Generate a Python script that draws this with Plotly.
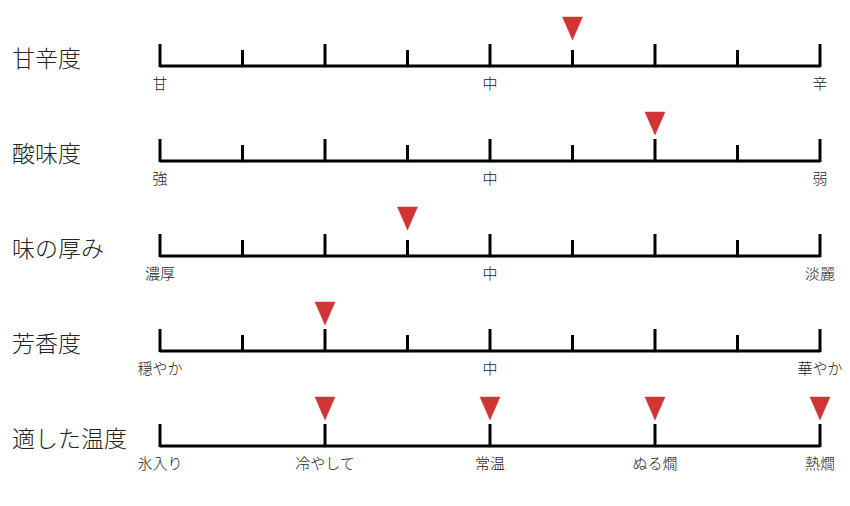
import plotly.graph_objects as go

# ---- data ----
row_titles = ["甘辛度", "酸味度", "味の厚み", "芳香度", "適した温度"]
scale_labels = [
    ["甘", "中", "辛"],
    ["強", "中", "弱"],
    ["濃厚", "中", "淡麗"],
    ["穏やか", "中", "華やか"],
    ["氷入り", "冷やして", "常温", "ぬる燗", "熱燗"],
]
label_positions = [
    [0, 4, 8],
    [0, 4, 8],
    [0, 4, 8],
    [0, 4, 8],
    [0, 2, 4, 6, 8],
]
tick_positions = [
    [0, 1, 2, 3, 4, 5, 6, 7, 8],
    [0, 1, 2, 3, 4, 5, 6, 7, 8],
    [0, 1, 2, 3, 4, 5, 6, 7, 8],
    [0, 1, 2, 3, 4, 5, 6, 7, 8],
    [0, 2, 4, 6, 8],
]
marker_values = [[5], [6], [3], [2], [2, 4, 6, 8]]
scale_min, scale_max = 0, 8

# ---- layout geometry (pixels) ----
W, H = 850, 506
x_left_px, x_right_px = 160, 820
row0_px, row_gap_px = 66, 95
px_per_x = (x_right_px - x_left_px) / (scale_max - scale_min)
x_range = [scale_min - x_left_px / px_per_x, scale_max + (W - x_right_px) / px_per_x]
y_range = [(H - row0_px) / row_gap_px, -row0_px / row_gap_px]

def py(p):  # pixel distance -> y units
    return p / row_gap_px

def pxx(p):  # pixel distance -> x units
    return p / px_per_x

major_len = py(22)
minor_len = py(16)
tri_half_w = pxx(10)
tri_top = py(49)
tri_bot = py(26)
label_off = py(19)
title_off = py(5)
title_x = scale_min - pxx(x_left_px - 12)

fig = go.Figure()

# baselines and ticks
lx, ly = [], []
for i, ticks in enumerate(tick_positions):
    lx += [scale_min, scale_max, None]
    ly += [i, i, None]
    all_major = len(ticks) < 9
    for t in ticks:
        ln = major_len if (all_major or t % 2 == 0) else minor_len
        lx += [t, t, None]
        ly += [i + 0.012, i - ln, None]
fig.add_trace(go.Scatter(x=lx, y=ly, mode="lines",
                         line=dict(color="#000000", width=3),
                         hoverinfo="skip", showlegend=False))

# triangles
tx, ty = [], []
for i, vals in enumerate(marker_values):
    for v in vals:
        tx += [v - tri_half_w, v + tri_half_w, v, v - tri_half_w, None]
        ty += [i - tri_top, i - tri_top, i - tri_bot, i - tri_top, None]
fig.add_trace(go.Scatter(x=tx, y=ty, mode="lines", fill="toself",
                         fillcolor="#d03535", line=dict(color="#d03535", width=0.5),
                         hoverinfo="skip", showlegend=False))

# scale labels
sx, sy, st = [], [], []
for i, (labs, pos) in enumerate(zip(scale_labels, label_positions)):
    for lab, p in zip(labs, pos):
        sx.append(p); sy.append(i + label_off); st.append(lab)
fig.add_trace(go.Scatter(x=sx, y=sy, text=st, mode="text",
                         textposition="middle center", cliponaxis=False,
                         textfont=dict(family="Noto Sans CJK JP Light", size=15, color="#222222"),
                         hoverinfo="skip", showlegend=False))

# row titles
fig.add_trace(go.Scatter(x=[title_x] * len(row_titles),
                         y=[i - title_off for i in range(len(row_titles))],
                         text=row_titles, mode="text", textposition="middle right",
                         cliponaxis=False,
                         textfont=dict(family="Noto Sans CJK JP Light", size=23, color="#222222"),
                         hoverinfo="skip", showlegend=False))

fig.update_layout(
    width=W, height=H,
    margin=dict(l=0, r=0, t=0, b=0),
    paper_bgcolor="white", plot_bgcolor="white",
    xaxis=dict(range=x_range, visible=False, fixedrange=True),
    yaxis=dict(range=y_range, visible=False, fixedrange=True),
    showlegend=False,
)

fig.write_html("out.html", config={"displayModeBar": False},
               post_script="document.body.style.margin='0';document.body.style.overflow='hidden';")
